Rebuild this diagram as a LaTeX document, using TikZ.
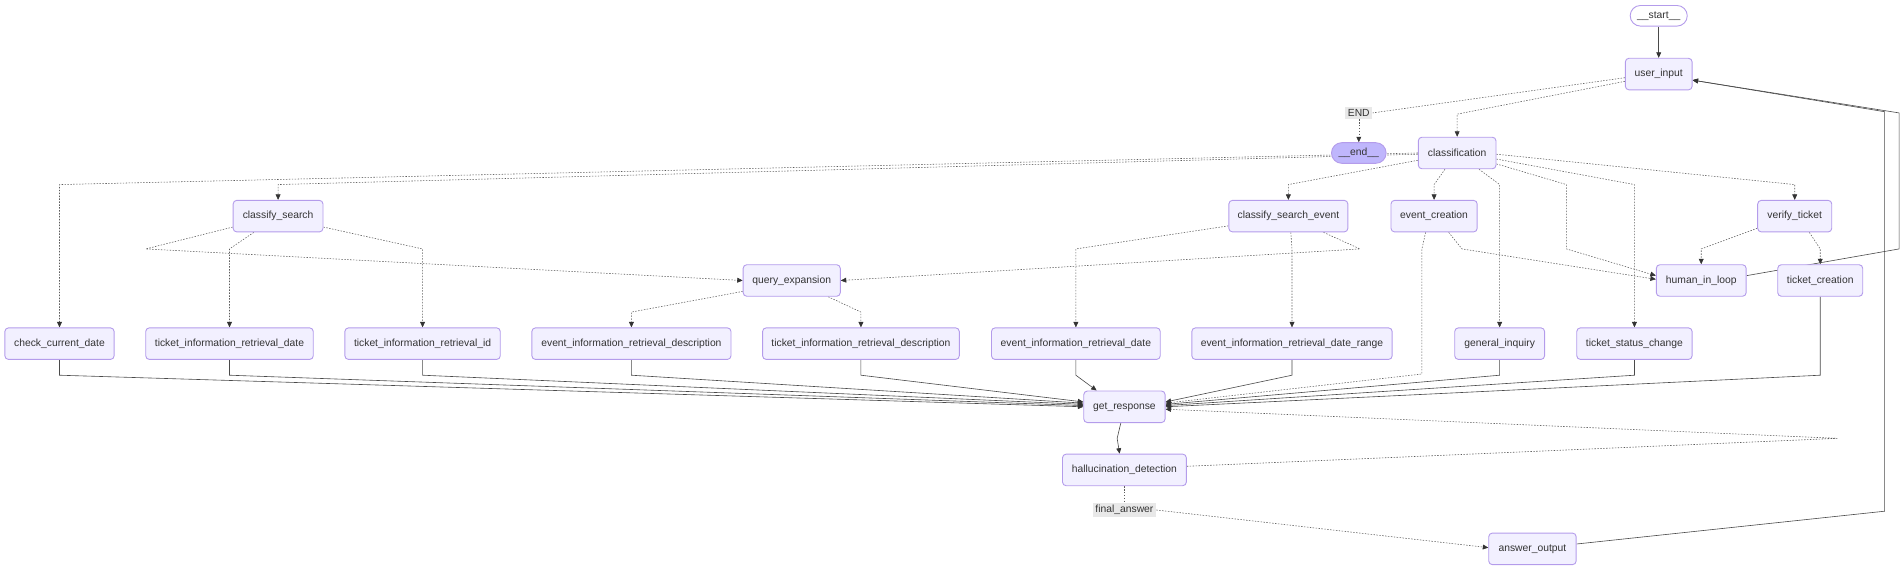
\documentclass[tikz,border=0pt]{standalone}
\usepackage{fontspec}
\setmainfont{Liberation Sans}
\newfontfamily\nodefont{Liberation Sans}
\usetikzlibrary{arrows.meta,calc}
\definecolor{nfill}{HTML}{F2F0FF}
\definecolor{nline}{HTML}{B49CEB}
\definecolor{endfill}{HTML}{BFB6FC}
\definecolor{edgec}{HTML}{333333}
\definecolor{sedgec}{HTML}{4A4A4A}
\definecolor{dotc}{HTML}{5A5A5A}
\definecolor{lblbg}{HTML}{E8E8E8}
\definecolor{txt}{HTML}{333333}
\pgfdeclarelayer{bg}
\pgfsetlayers{bg,main}
\begin{document}
\begin{tikzpicture}[x=1pt,y=-1pt,
  box/.style={draw=nline, fill=nfill, rounded corners=3pt, line width=0.75pt,
    minimum height=26pt, inner sep=0pt, text=txt,
    font=\nodefont\fontsize{8.5}{10}\selectfont},
  term/.style={box, minimum height=17pt, rounded corners=8.5pt},
  lbl/.style={fill=lblbg, inner xsep=2.2pt, inner ysep=2pt, text=txt,
    font=\nodefont\fontsize{8.5}{10}\selectfont},
  sedge/.style={draw=sedgec, line width=0.5pt, -{Triangle[length=4.5pt,width=4pt,color=edgec]}},
  dedge/.style={draw=dotc, line width=0.45pt, dash pattern=on 1.2pt off 1.2pt, -{Triangle[length=4.5pt,width=4pt,color=edgec]}},
  dpath/.style={draw=dotc, line width=0.45pt, dash pattern=on 1.2pt off 1.2pt}
]
\useasboundingbox (0,0) rectangle (1568,470);

% nodes
\node[term, fill=white, minimum width=47pt] (start) at (1366,13) {\_\_start\_\_};
\node[box, minimum width=55pt] (user) at (1366,61) {user\_input};
\node[lbl] (endlbl) at (1119,93) {END};
\node[term, fill=endfill, minimum width=45pt] (end) at (1119,126) {\_\_end\_\_};
\node[box, minimum width=64pt] (cls) at (1200,126) {classification};
\node[box, minimum width=74pt] (cs) at (229,178) {classify\_search};
\node[box, minimum width=98pt] (cse) at (1061,178) {classify\_search\_event};
\node[box, minimum width=71pt] (ec) at (1181,178) {event\_creation};
\node[box, minimum width=61pt] (vt) at (1478,178) {verify\_ticket};
\node[box, minimum width=80pt] (qe) at (652,231) {query\_expansion};
\node[box, minimum width=74pt] (hil) at (1401,231) {human\_in\_loop};
\node[box, minimum width=70pt] (tc) at (1499,231) {ticket\_creation};
\node[box, minimum width=90pt] (ccd) at (49,283) {check\_current\_date};
\node[box, minimum width=138pt] (tird) at (189,283) {ticket\_information\_retrieval\_date};
\node[box, minimum width=128pt] (tiri) at (348,283) {ticket\_information\_retrieval\_id};
\node[box, minimum width=164pt] (eirdesc) at (520,283) {event\_information\_retrieval\_description};
\node[box, minimum width=162pt] (tirdesc) at (709,283) {ticket\_information\_retrieval\_description};
\node[box, minimum width=139pt] (eird) at (886,283) {event\_information\_retrieval\_date};
\node[box, minimum width=165pt] (eirdr) at (1064,283) {event\_information\_retrieval\_date\_range};
\node[box, minimum width=74pt] (gi) at (1235,283) {general\_inquiry};
\node[box, minimum width=95pt] (tsc) at (1346,283) {ticket\_status\_change};
\node[box, minimum width=67pt] (gr) at (926,335) {get\_response};
\node[box, minimum width=102pt] (hd) at (926,387) {hallucination\_detection};
\node[lbl] (fa) at (926,420) {final\_answer};
\node[box, minimum width=72pt] (ao) at (1262,452) {answer\_output};

\begin{pgfonlayer}{bg}
% start / user input
\draw[sedge] (start.south) -- (user.north);
\draw[dpath] ($(user.west)+(0,3)$) -- (endlbl.east);
\draw[dedge] (endlbl.south) -- (end.north);
\draw[dedge] ($(user.west)+(0,6)$) -- (1200,94) -- (cls.north);
% classification fan-out
\draw[dedge] (cls.west) -- (49,152) -- (ccd.north);
\draw[dedge] ($(cls.west)+(0,1)$) -- (229,152) -- (cs.north);
\draw[dedge] ($(cls.west)+(0,6)$) -- (1061,152) -- (cse.north);
\draw[dedge] ($(cls.south)+(-10,0)$) -- (1181,152) -- (ec.north);
\draw[dedge] ($(cls.south)+(18,0)$) -- (1235,152) -- (gi.north);
\draw[dedge] ($(cls.east)+(0,9)$) -- (1290,152) -- (1290,205) -- ($(hil.west)+(0,-4)$);
\draw[dedge] ($(cls.east)+(0,5)$) -- (1346,152) -- (tsc.north);
\draw[dedge] ($(cls.east)+(0,1)$) -- (1478,152) -- (vt.north);
% classify_search
\draw[dedge] ($(cs.south)+(-20,0)$) -- (189,205) -- (tird.north);
\draw[dedge] ($(cs.east)+(0,9)$) -- (348,205) -- (tiri.north);
\draw[dedge] ($(cs.west)+(0,9)$) -- (120,205) -- (qe.west);
% classify_search_event
\draw[dedge] ($(cse.west)+(0,8)$) -- (886,205) -- (eird.north);
\draw[dedge] ($(cse.south)+(2,0)$) -- (1064,205) -- (eirdr.north);
\draw[dedge] ($(cse.south)+(29,0)$) -- (1120,205) -- (qe.east);
% event_creation
\draw[dedge] ($(ec.south)+(-7,0)$) -- (1171,205) -- (1171,308) -- ($(gr.east)+(0,-3)$);
\draw[dedge] ($(ec.south)+(12,0)$) -- (1204,205) -- ($(hil.west)+(0,-1)$);
% verify_ticket
\draw[dedge] ($(vt.west)+(0,10)$) -- (1401,205) -- (hil.north);
\draw[dedge] ($(vt.south)+(12,0)$) -- (1499,205) -- (tc.north);
% loops back to user_input
\draw[sedge] ($(hil.east)+(0,-4)$) -- (1564,205) -- (1564,93) -- ($(user.east)+(0,5)$);
\draw[sedge] ($(ao.east)+(0,-4)$) -- (1552,421) -- (1552,92) -- ($(user.east)+(0,5)$);
% query_expansion
\draw[dedge] ($(qe.west)+(0,9)$) -- (520,257) -- (eirdesc.north);
\draw[dedge] ($(qe.south)+(30,0)$) -- (709,257) -- (tirdesc.north);
% to get_response
\draw[sedge] (ccd.south) -- (49,309) -- ($(gr.west)+(0,0)$);
\draw[sedge] (tird.south) -- (189,309) -- ($(gr.west)+(0,-1)$);
\draw[sedge] (tiri.south) -- (348,309) -- ($(gr.west)+(0,-2)$);
\draw[sedge] (eirdesc.south) -- (520,309) -- ($(gr.west)+(0,-3)$);
\draw[sedge] (tirdesc.south) -- (709,309) -- ($(gr.west)+(0,-4)$);
\draw[sedge] (eird.south) -- (886,309) -- ($(gr.north west)+(11,0)$);
\draw[sedge] (eirdr.south) -- (1064,309) -- ($(gr.east)+(0,-4)$);
\draw[sedge] (gi.south) -- (1235,309) -- ($(gr.east)+(0,-2)$);
\draw[sedge] (tsc.south) -- (1346,309) -- ($(gr.east)+(0,-1)$);
\draw[sedge] (tc.south) -- (1499,309) -- ($(gr.east)+(0,0)$);
% response / hallucination
\draw[sedge] ($(gr.south)+(-3,0)$) -- (920,361) -- ($(hd.north)+(-4,0)$);
\draw[dedge] ($(hd.east)+(0,-3)$) -- (1513,361) -- ($(gr.east)+(0,2)$);
\draw[dpath] (hd.south) -- (fa.north);
\draw[dedge] (fa.east) -- ($(ao.west)+(0,-1)$);
\end{pgfonlayer}
\end{tikzpicture}
\end{document}
